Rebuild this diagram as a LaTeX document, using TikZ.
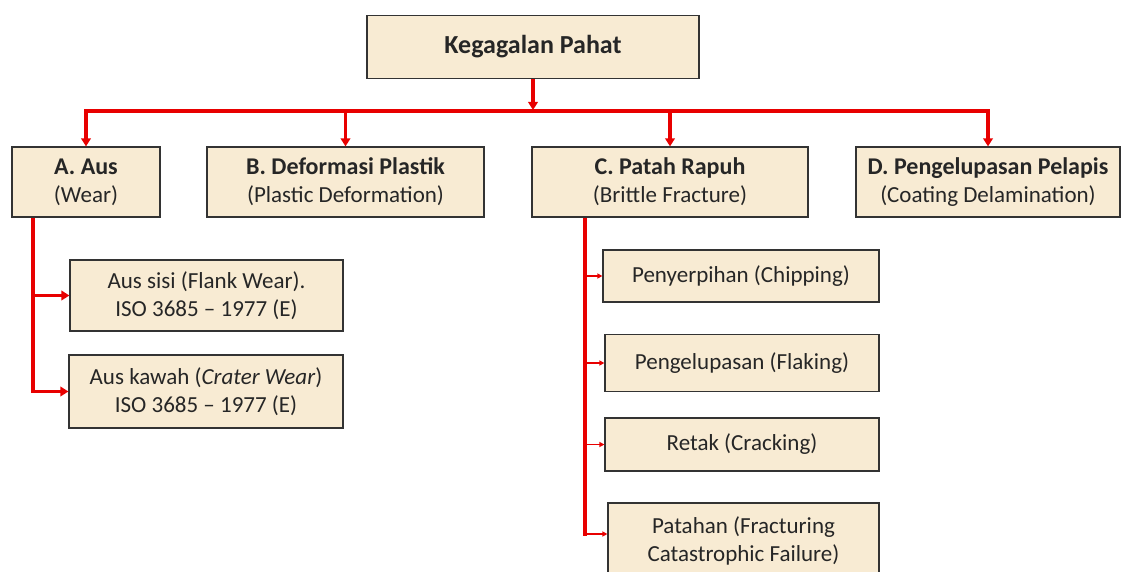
\documentclass[tikz,border=0pt]{standalone}
\usepackage{fontspec}
\setmainfont{Carlito}
\usepackage{tikz}
\usetikzlibrary{arrows.meta}
\definecolor{boxtan}{RGB}{248,235,211}
\definecolor{linkred}{RGB}{232,0,0}
\newcommand{\grp}[1]{{\bfseries\fontsize{24}{27}\selectfont#1}}

\begin{document}
\begin{tikzpicture}[x=1pt, y=-1pt,
    box/.style={draw=black!80, line width=1.2pt, fill=boxtan, inner sep=2pt,
                font=\fontsize{23}{28}\selectfont, text=black!85, align=center},
    trunk/.style={draw=linkred, line width=3.6pt},
    flow/.style={trunk, -{Triangle[length=8pt, width=9.5pt]}},
    twig/.style={draw=linkred, line width=1.3pt, -{Triangle[length=5pt, width=5pt]}}]
  \clip (0,0) rectangle (1123,572);
  \fill[white] (0,0) rectangle (1123,572);
  % root
  \node[box, minimum width=332pt, minimum height=63pt,
        font=\bfseries\fontsize{26}{30}\selectfont] (top) at (533,47) {Kegagalan Pahat};
  % main groups
  \node[box, minimum width=148pt, minimum height=70pt] (A) at (86,182)
       {\grp{A. Aus}\\(Wear)};
  \node[box, minimum width=277pt, minimum height=70pt] (B) at (345.5,182)
       {\grp{B. Deformasi Plastik}\\(Plastic Deformation)};
  \node[box, minimum width=276pt, minimum height=70pt] (C) at (670,182)
       {\grp{C. Patah Rapuh}\\(Brittle Fracture)};
  \node[box, minimum width=264pt, minimum height=70pt] (D) at (988,182)
       {\grp{D. Pengelupasan Pelapis}\\(Coating Delamination)};
  % wear types
  \node[box, minimum width=273pt, minimum height=71pt] (a1) at (206.5,295.5)
       {Aus sisi (Flank Wear).\\ISO 3685 -- 1977 (E)};
  \node[box, minimum width=274pt, minimum height=73pt] (a2) at (206,391.5)
       {Aus kawah (\textit{Crater Wear})\\ISO 3685 -- 1977 (E)};
  % fracture types
  \node[box, minimum width=276pt, minimum height=52pt] (c1) at (741,276) {Penyerpihan (Chipping)};
  \node[box, minimum width=274pt, minimum height=57pt] (c2) at (742,363) {Pengelupasan (Flaking)};
  \node[box, minimum width=274pt, minimum height=53pt] (c3) at (742,444.5) {Retak (Cracking)};
  \node[box, minimum width=271pt, minimum height=76pt] (c4) at (743.5,541)
       {Patahan (Fracturing\\Catastrophic Failure)};

  \coordinate (bar) at (533,111);
  \draw[trunk, line cap=rect] (A.north |- bar) -- (D.north |- bar);
  \draw[flow] (top.south) -- ([yshift=1pt]top.south |- bar);
  \foreach \n in {A,B,C,D}
    \draw[flow] (\n.north |- bar) -- (\n.north);

  \coordinate (as) at ([xshift=-53pt]A.south);
  \draw[flow] (as) |- (a2.west);
  \draw[flow] (as |- a1.west) -- (a1.west);

  \coordinate (cs) at ([xshift=-85pt]C.south);
  \coordinate (c4in) at ([yshift=7pt]c4.west);
  \draw[trunk] (cs) -- ([yshift=-1.8pt]cs |- c4in);
  \foreach \n in {c1,c2,c3}
    \draw[twig] (cs |- \n.west) -- (\n.west);
  \draw[twig] (cs |- c4in) -- (c4in);
\end{tikzpicture}
\end{document}
